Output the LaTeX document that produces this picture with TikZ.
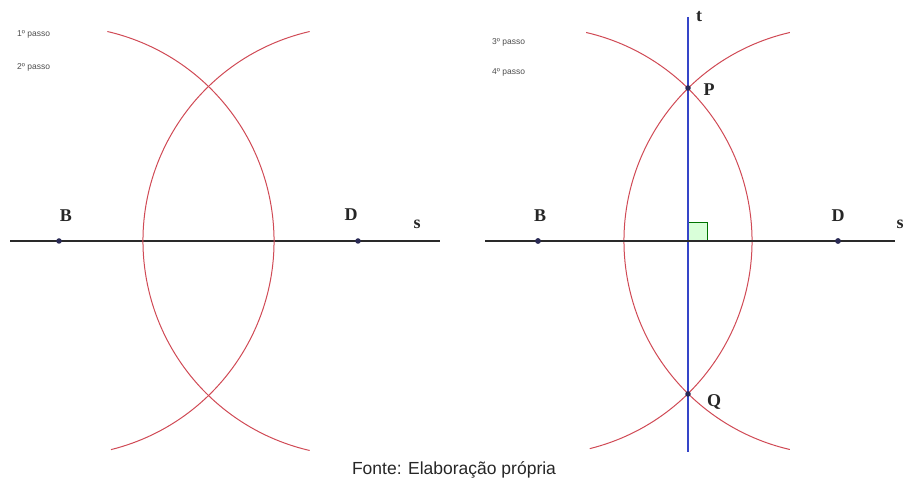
\documentclass[tikz,border=0pt]{standalone}
\usepackage{fontspec}
\setmainfont{Liberation Serif}
\setsansfont{Liberation Sans}
\definecolor{arcred}{HTML}{D04A55}
\definecolor{tblue}{HTML}{3545C8}
\definecolor{ptnavy}{HTML}{2A2A55}
\definecolor{lineblk}{HTML}{2A2A2A}
\begin{document}
\begin{tikzpicture}[x=1pt,y=1pt,
  pt/.style={circle,fill=ptnavy,inner sep=0pt,minimum size=5.5pt},
  lbl/.style={font=\bfseries\fontsize{18}{18}\selectfont,text=black!85,inner sep=0pt},
  stepnote/.style={font=\sffamily\fontsize{8.5}{9}\selectfont,text=black!70,anchor=west,inner sep=0pt},
  sline/.style={lineblk,line width=1.3pt},
  arcline/.style={arcred,line width=1pt},
  tline/.style={tblue,line width=1.1pt}]
\useasboundingbox (0,0) rectangle (908,490);
% ---------- left panel ----------
\coordinate (sL1) at (10,249);
\coordinate (sL2) at (440,249);
\draw[sline] (sL1) -- (sL2);
\node[pt] (B1) at (59,249) {};
\node[pt] (D1) at (358,249) {};
\draw[arcline] (B1) ++(-76:215) arc[start angle=-76,end angle=77,radius=215];
\draw[arcline] (D1) ++(103:215) arc[start angle=103,end angle=257,radius=215];
\node[lbl] (lB1) at (66,274) {B};
\node[lbl] (lD1) at (351,275) {D};
\node[lbl] (ls1) at (417,266) {s};
\node[stepnote] (n1) at (17,456) {1º passo};
\node[stepnote] (n2) at (17,423) {2º passo};
% ---------- right panel ----------
\coordinate (sR1) at (485,249);
\coordinate (sR2) at (895,249);
\node[pt] (B2) at (538,249) {};
\node[pt] (D2) at (838,249) {};
\coordinate (M) at (688,249);
\draw[arcline] (B2) ++(-76:214) arc[start angle=-76,end angle=77,radius=214];
\draw[arcline] (D2) ++(103:214) arc[start angle=103,end angle=257,radius=214];
\coordinate (t1) at (688,473);
\coordinate (t2) at (688,38);
\draw[fill=green!15,draw=green!45!black,line width=0.6pt] (M) rectangle ++(19,19);
\draw[tline] (t1) -- (t2);
\draw[sline] (sR1) -- (sR2);
\node[pt] (P) at (688,402) {};
\node[pt] (Q) at (688,96) {};
\node[pt] at (B2) {};
\node[pt] at (D2) {};
\node[lbl] (lB2) at (540,274) {B};
\node[lbl] (lD2) at (838,274) {D};
\node[lbl] (ls2) at (900,266) {s};
\node[lbl] (lt) at (699,473) {t};
\node[lbl] (lP) at (709,400) {P};
\node[lbl] (lQ) at (714,88) {Q};
\node[stepnote] (n3) at (492,448) {3º passo};
\node[stepnote] (n4) at (492,418) {4º passo};
% ---------- caption ----------
\node[font=\sffamily\fontsize{17.5}{18}\selectfont,text=black!85] (cap) at (454,20) {Fonte: Elaboração própria};
\end{tikzpicture}
\end{document}
